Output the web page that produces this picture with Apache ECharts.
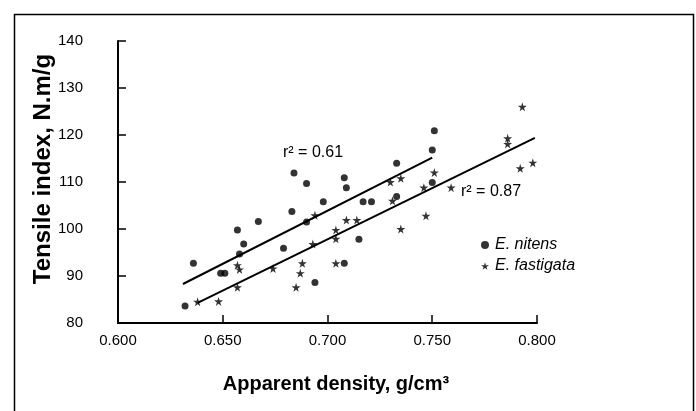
<!DOCTYPE html>
<html>
<head>
<meta charset="utf-8">
<script src="https://cdn.jsdelivr.net/npm/echarts@6/dist/echarts.min.js"></script>
<style>
html,body{margin:0;padding:0;background:#fff;}
#c{width:696px;height:411px;}
</style>
</head>
<body>
<div id="c"></div>
<script>
// Data
var xTicks = ['0.600', '0.650', '0.700', '0.750', '0.800'];
var yTicks = [80, 90, 100, 110, 120, 130, 140];

var nitens = [
  [0.632, 83.6], [0.636, 92.7], [0.649, 90.6], [0.651, 90.6], [0.657, 99.8],
  [0.660, 96.8], [0.658, 94.7], [0.667, 101.6], [0.679, 95.9], [0.683, 103.7],
  [0.684, 111.9], [0.690, 109.7], [0.690, 101.5], [0.694, 88.6], [0.698, 105.8],
  [0.708, 110.9], [0.709, 108.8], [0.708, 92.7], [0.715, 97.8], [0.717, 105.8],
  [0.721, 105.8], [0.733, 114.0], [0.733, 106.9], [0.750, 116.8], [0.751, 120.9],
  [0.750, 109.9]
];
var fastigata = [
  [0.638, 84.5], [0.648, 84.6], [0.657, 92.3], [0.658, 91.4], [0.657, 87.6],
  [0.674, 91.6], [0.685, 87.6], [0.687, 90.6], [0.688, 92.7], [0.693, 96.8],
  [0.694, 102.9], [0.704, 92.7], [0.704, 99.8], [0.704, 97.9], [0.709, 101.9],
  [0.714, 101.9], [0.730, 110.0], [0.735, 110.8], [0.731, 106.0], [0.735, 100.0],
  [0.746, 108.8], [0.747, 102.8], [0.751, 112.0], [0.759, 108.8], [0.786, 118.1],
  [0.786, 119.3], [0.793, 126.0], [0.792, 112.9], [0.798, 114.1]
];
var nitensFit = [[0.631, 88.3], [0.750, 115.2]];
var fastigataFit = [[0.638, 84.3], [0.799, 119.4]];
var r2Labels = ['r\u00B2 = 0.61', 'r\u00B2 = 0.87'];
var seriesNames = ['E. nitens', 'E. fastigata'];

var FONT = '"Liberation Sans", Arial, Helvetica, sans-serif';
var STAR = 'path://M50,0 L61,35 L98,35 L68,57 L79,91 L50,70 L21,91 L32,57 L2,35 L39,35 Z';

var chart = echarts.init(document.getElementById('c'), null, {renderer: 'canvas'});
chart.setOption({
  backgroundColor: '#fff',
  animation: false,
  textStyle: {fontFamily: FONT, color: '#000'},
  grid: {left: 118, right: 159, top: 41, bottom: 88, containLabel: false},
  xAxis: {
    type: 'value', min: 0.6, max: 0.8, interval: 0.05,
    name: 'Apparent density, g/cm\u00B3', nameLocation: 'middle', nameGap: 51,
    nameTextStyle: {fontFamily: FONT, fontWeight: 'bold', fontSize: 20, color: '#000', padding: [0, 0, 0, 17]},
    axisLine: {show: true, lineStyle: {color: '#000', width: 2}},
    axisTick: {show: true, inside: true, length: 8, lineStyle: {color: '#000', width: 1.5}},
    axisLabel: {fontFamily: FONT, fontSize: 15, color: '#000', margin: 10,
      formatter: function (v) { var i = Math.round((v - 0.6) / 0.05); return xTicks[i]; }},
    splitLine: {show: false}
  },
  yAxis: {
    type: 'value', min: 80, max: 140, interval: 10,
    name: 'Tensile index, N.m/g', nameLocation: 'middle', nameGap: 63, nameRotate: 90,
    nameMoveOverlap: false,
    nameTextStyle: {fontFamily: FONT, fontWeight: 'bold', fontSize: 24, color: '#000', padding: [0, 0, 0, 26]},
    axisLine: {show: true, lineStyle: {color: '#000', width: 2}},
    axisTick: {show: true, inside: true, length: 8, lineStyle: {color: '#000', width: 1.5}},
    axisLabel: {fontFamily: FONT, fontSize: 15, color: '#000', margin: 35,
      formatter: function (v) { return String(yTicks[Math.round((v - 80) / 10)]); }},
    splitLine: {show: false}
  },
  legend: {
    orient: 'vertical', left: 476, top: 232, itemGap: 5, itemWidth: 8, itemHeight: 8,
    textStyle: {fontFamily: FONT, fontStyle: 'italic', fontSize: 16, color: '#000', padding: [0, 0, 0, 1]},
    data: [{name: seriesNames[0], icon: 'circle'}, {name: seriesNames[1], icon: STAR}]
  },
  graphic: [
    {type: 'rect', left: 12, top: 12, shape: {width: 679, height: 420}, style: {fill: 'none', stroke: '#000', lineWidth: 1.5}, silent: true},
    {type: 'text', left: 283, top: 145, style: {text: r2Labels[0], font: '16px ' + FONT, fill: '#000'}},
    {type: 'text', left: 461, top: 184, style: {text: r2Labels[1], font: '16px ' + FONT, fill: '#000'}}
  ],
  series: [
    {name: seriesNames[0], type: 'scatter', data: nitens, symbol: 'circle', symbolSize: 7,
      itemStyle: {color: '#000'}},
    {name: seriesNames[1], type: 'scatter', data: fastigata, symbol: STAR, symbolSize: 9,
      itemStyle: {color: '#000'}},
    {name: 'fit1', type: 'line', data: nitensFit, symbol: 'none', lineStyle: {color: '#000', width: 2}, silent: true},
    {name: 'fit2', type: 'line', data: fastigataFit, symbol: 'none', lineStyle: {color: '#000', width: 2}, silent: true}
  ]
});
</script>
</body>
</html>
